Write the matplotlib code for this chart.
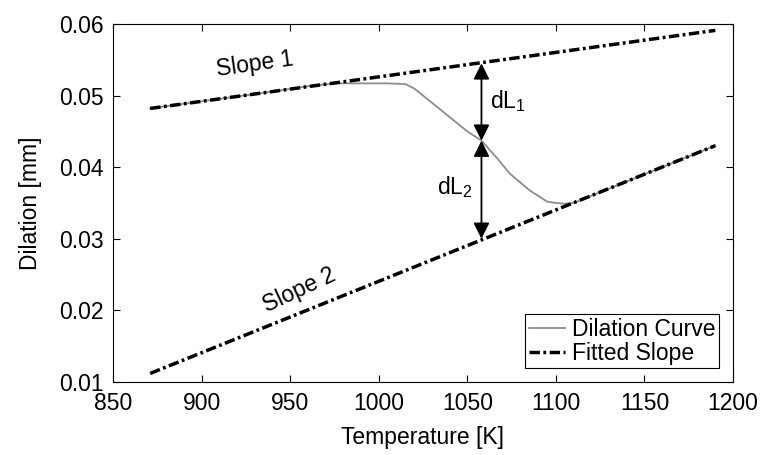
import numpy as np
import matplotlib
matplotlib.use('Agg')
import matplotlib.pyplot as plt

plt.rcParams['font.family'] = ['Liberation Sans', 'DejaVu Sans']

# fitted slopes (end points)
slope1_T = [871, 1190]
slope1_L = [0.0482, 0.0591]
slope2_T = [871, 1190]
slope2_L = [0.0112, 0.0430]

# dilation curve
curve_T = [871, 900, 930, 960, 975, 990, 1005, 1015, 1020, 1030, 1040, 1050, 1058,
           1067, 1074, 1085, 1095, 1100, 1105, 1110, 1130, 1160, 1190]
curve_L = [0.0482, 0.0492, 0.0502, 0.0513, 0.0517, 0.0517, 0.0517, 0.0516, 0.0510,
           0.0490, 0.0470, 0.0450, 0.0437, 0.0412, 0.0391, 0.0368, 0.0352, 0.0350,
           0.0349, 0.0350, 0.0370, 0.0400, 0.0430]

arrow_T = 1058
arrow_top = 0.0545
arrow_mid = 0.0437
arrow_bot = 0.0300

fs = 16.5

fig = plt.figure(figsize=(7.76, 4.55), dpi=100)
ax = fig.add_axes([0.1456, 0.1604, 0.799, 0.787])

ax.plot(curve_T, curve_L, color='#8c8c8c', lw=1.3, label='Dilation Curve')
ax.plot(slope1_T, slope1_L, color='black', lw=2.5, dashes=(3, 1, 0.8, 1), label='Fitted Slope')
ax.plot(slope2_T, slope2_L, color='black', lw=2.5, dashes=(3, 1, 0.8, 1))

akw = dict(arrowstyle='<|-|>', color='black', lw=1.3, mutation_scale=24, shrinkA=0, shrinkB=0)
ax.annotate('', xy=(arrow_T, arrow_top), xytext=(arrow_T, arrow_mid), arrowprops=akw)
ax.annotate('', xy=(arrow_T, arrow_mid), xytext=(arrow_T, arrow_bot), arrowprops=akw)

ax.text(1063, 0.0492, r'dL$_\mathregular{1}$', fontsize=fs, va='center', ha='left')
ax.text(1053, 0.0372, r'dL$_\mathregular{2}$', fontsize=fs, va='center', ha='right')
ax.text(930, 0.0544, 'Slope 1', fontsize=fs, rotation=8, ha='center', va='center')
ax.text(955, 0.0228, 'Slope 2', fontsize=fs, rotation=25, ha='center', va='center')

ax.set_xlim(850, 1200)
ax.set_ylim(0.01, 0.06)
ax.set_xticks([850, 900, 950, 1000, 1050, 1100, 1150, 1200])
ax.set_yticks([0.01, 0.02, 0.03, 0.04, 0.05, 0.06])
ax.tick_params(direction='in', top=True, right=True, labelsize=fs, length=5, pad=7)
ax.set_xlabel('Temperature [K]', fontsize=fs, labelpad=8)
ax.set_ylabel('Dilation [mm]', fontsize=fs, labelpad=12)

leg = ax.legend(loc='lower right', fontsize=fs, frameon=True, fancybox=False,
                edgecolor='black', framealpha=1, handlelength=1.6, borderpad=0.15,
                labelspacing=0.05, handletextpad=0.3, borderaxespad=0.6)
leg.get_frame().set_linewidth(0.8)

fig.savefig('out.png', dpi=100)
